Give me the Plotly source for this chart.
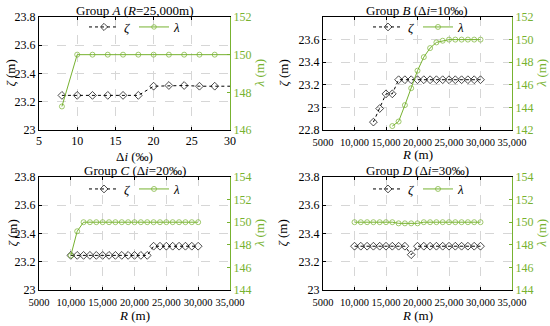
import plotly.graph_objects as go

# ---------------- data ----------------
A_di = [8, 10, 12, 14, 16, 18, 20, 22, 24, 26, 28, 30]
A_zeta = [23.245, 23.245, 23.245, 23.245, 23.245, 23.245, 23.31, 23.315, 23.315, 23.31, 23.31, 23.31]
A_lambda = [147.25, 150.0, 150.0, 150.0, 150.0, 150.0, 150.0, 150.0, 150.0, 150.0, 150.0, 150.0]

B_R_zeta = [13000, 14000, 15000, 16000, 17000, 18000, 19000, 20000, 21000, 22000,
            23000, 24000, 25000, 26000, 27000, 28000, 29000, 30000]
B_zeta = [22.87, 22.99, 23.12, 23.12, 23.245, 23.245, 23.245, 23.245, 23.245, 23.245,
          23.245, 23.245, 23.245, 23.245, 23.245, 23.245, 23.245, 23.245]
B_R_lambda = [16000, 17000, 18000, 19000, 20000, 21000, 22000, 23000, 24000, 25000,
              26000, 27000, 28000, 29000, 30000]
B_lambda = [142.35, 142.75, 144.2, 145.7, 147.25, 148.45, 149.25, 149.75, 149.9, 150.0,
            150.0, 150.0, 150.0, 150.0, 150.0]

C_R = [10000, 11000, 12000, 13000, 14000, 15000, 16000, 17000, 18000, 19000, 20000,
       21000, 22000, 23000, 24000, 25000, 26000, 27000, 28000, 29000, 30000]
C_zeta = [23.245, 23.245, 23.245, 23.245, 23.245, 23.245, 23.245, 23.245, 23.245, 23.245, 23.245,
          23.245, 23.245, 23.31, 23.31, 23.31, 23.31, 23.31, 23.31, 23.31, 23.31]
C_lambda = [147.05, 149.2, 150.0, 150.0, 150.0, 150.0, 150.0, 150.0, 150.0, 150.0, 150.0,
            150.0, 150.0, 150.0, 150.0, 150.0, 150.0, 150.0, 150.0, 150.0, 150.0]

D_R = [10000, 11000, 12000, 13000, 14000, 15000, 16000, 17000, 18000, 19000, 20000,
       21000, 22000, 23000, 24000, 25000, 26000, 27000, 28000, 29000, 30000]
D_zeta = [23.31, 23.31, 23.31, 23.31, 23.31, 23.31, 23.31, 23.31, 23.31, 23.25, 23.31,
          23.31, 23.31, 23.31, 23.31, 23.31, 23.31, 23.31, 23.31, 23.31, 23.31]
D_lambda = [150.0, 150.0, 150.0, 150.0, 150.0, 150.0, 150.0, 149.9, 149.9, 149.9, 149.9,
            150.0, 150.0, 150.0, 150.0, 150.0, 150.0, 150.0, 150.0, 150.0, 150.0]

A_xticks = [5, 10, 15, 20, 25, 30]
R_xticks = [5000, 10000, 15000, 20000, 25000, 30000, 35000]
R_xticktext = ["5000", "10,000", "15,000", "20,000", "25,000", "30,000", "35,000"]
zeta_ticks = [23, 23.2, 23.4, 23.6, 23.8]
zeta_ticktext = ["23", "23.2", "23.4", "23.6", "23.8"]
zetaB_ticks = [22.8, 23, 23.2, 23.4, 23.6]
zetaB_ticktext = ["22.8", "23", "23.2", "23.4", "23.6"]
lamA_ticks = [146, 148, 150, 152]
lamB_ticks = [142, 144, 146, 148, 150, 152]
lamCD_ticks = [144, 146, 148, 150, 152, 154]

titles = ["Group <i>A</i> (<i>R</i>=25,000m)",
          "Group <i>B</i> (Δ<i>i</i>=10‰)",
          "Group <i>C</i> (Δ<i>i</i>=20‰)",
          "Group <i>D</i> (Δ<i>i</i>=30‰)"]

# ---------------- layout geometry (pixels) ----------------
W, H = 550, 326
GREEN = "rgb(119,178,48)"
FONT = "Liberation Serif"

# panel boxes: left, right, top, bottom (px)
boxes = [(39, 230, 17, 130), (323, 512, 17, 130), (39, 230, 177, 290), (323, 512, 177, 290)]

def px_x(v):
    return v / W

def px_y(v):
    return 1 - v / H

fig = go.Figure()

panels = [
    dict(xz=A_di, z=A_zeta, xl=A_di, l=A_lambda, xr=[5, 30], xt=A_xticks, xtt=[str(v) for v in A_xticks],
         zr=[23, 23.8], zt=zeta_ticks, ztt=zeta_ticktext, lr=[146, 152], lt=lamA_ticks,
         xtitle="Δ<i>i</i> (‰)", xfs=12, xso=0, xty=26),
    dict(xz=B_R_zeta, z=B_zeta, xl=B_R_lambda, l=B_lambda, xr=[5000, 35000], xt=R_xticks, xtt=R_xticktext,
         zr=[22.8, 23.8], zt=zetaB_ticks, ztt=zetaB_ticktext, lr=[142, 152], lt=lamB_ticks,
         xtitle="<i>R</i> (m)", xfs=10.5, xso=2, xty=25),
    dict(xz=C_R, z=C_zeta, xl=C_R, l=C_lambda, xr=[5000, 35000], xt=R_xticks, xtt=R_xticktext,
         zr=[23, 23.8], zt=zeta_ticks, ztt=zeta_ticktext, lr=[144, 154], lt=lamCD_ticks,
         xtitle="<i>R</i> (m)", xfs=10.5, xso=2, xty=25),
    dict(xz=D_R, z=D_zeta, xl=D_R, l=D_lambda, xr=[5000, 35000], xt=R_xticks, xtt=R_xticktext,
         zr=[23, 23.8], zt=zeta_ticks, ztt=zeta_ticktext, lr=[144, 154], lt=lamCD_ticks,
         xtitle="<i>R</i> (m)", xfs=10.5, xso=2, xty=25),
]

legend_pos = [(84, 27), (368, 27), (84, 189), (368, 189)]
ytitle_left_x = [10, 283, 12, 282]
annotations = []
layout = {}

for i, p in enumerate(panels):
    n = i + 1
    xa = "x" if n == 1 else f"x{n}"
    ya = "y" if n == 1 else f"y{n}"
    yr = f"y{n+4}"
    leg = "legend" if n == 1 else f"legend{n}"
    L, R, T, B = boxes[i]

    # marker sizes: last A point is only the line continuation to the axis edge
    zsize = [6] * len(p["xz"])
    lsize = [5] * len(p["xl"])
    if i == 0:
        zsize[-1] = 0
        lsize[-1] = 0

    fig.add_trace(go.Scatter(
        x=p["xz"], y=p["z"], xaxis=xa, yaxis=ya, mode="lines+markers", name="<i>ζ</i>",
        line=dict(color="black", width=1, dash="3px,3px"),
        marker=dict(symbol="diamond-open", size=zsize, color="black", line=dict(width=1)),
        legend=leg, showlegend=True))
    fig.add_trace(go.Scatter(
        x=p["xl"], y=p["l"], xaxis=xa, yaxis=yr, mode="lines+markers", name="<i>λ</i>",
        line=dict(color=GREEN, width=1),
        marker=dict(symbol="circle-open", size=lsize, color=GREEN, line=dict(width=1)),
        legend=leg, showlegend=True))

    xkey = "xaxis" if n == 1 else f"xaxis{n}"
    ykey = "yaxis" if n == 1 else f"yaxis{n}"
    yrkey = f"yaxis{n+4}"
    layout[xkey] = dict(
        domain=[px_x(L), px_x(R)], anchor=ya, range=p["xr"], tickmode="array",
        tickvals=p["xt"], ticktext=p["xtt"], tickangle=0, ticklabelstandoff=p["xso"],
        showline=True, linecolor="black", linewidth=1, mirror="ticks",
        ticks="inside", ticklen=3, tickcolor="black",
        showgrid=True, gridcolor="#d6d6d6", griddash="dash", gridwidth=1,
        zeroline=False, automargin=False,
        tickfont=dict(family=FONT, size=p["xfs"], color="black"))
    layout[ykey] = dict(
        domain=[px_y(B), px_y(T)], anchor=xa, range=p["zr"], tickmode="array",
        tickvals=p["zt"], ticktext=p["ztt"],
        showline=True, linecolor="black", linewidth=1,
        ticks="inside", ticklen=3, tickcolor="black",
        showgrid=True, gridcolor="#d6d6d6", griddash="dash", gridwidth=1,
        zeroline=False, automargin=False,
        tickfont=dict(family=FONT, size=12, color="black"))
    layout[yrkey] = dict(
        overlaying=ya, anchor=xa, side="right", range=p["lr"], tickmode="array",
        tickvals=p["lt"], showline=True, linecolor=GREEN, linewidth=1,
        ticks="inside", ticklen=3, tickcolor=GREEN, showgrid=False, zeroline=False,
        automargin=False, tickfont=dict(family=FONT, size=12, color=GREEN))

    lx, ly = legend_pos[i]
    layout[leg] = dict(
        x=px_x(lx), y=px_y(ly), xanchor="left", yanchor="middle", orientation="h",
        bgcolor="rgba(255,255,255,0)", borderwidth=0, itemwidth=30,
        font=dict(family=FONT, size=13, color="black"), tracegroupgap=0,
        entrywidth=5)

    cx = (L + R) / 2
    annotations.append(dict(text=titles[i], x=px_x(cx), y=px_y(T - 7), xref="paper", yref="paper",
                            xanchor="center", yanchor="middle", showarrow=False,
                            font=dict(family=FONT, size=13, color="black")))
    annotations.append(dict(text=p["xtitle"], x=px_x(cx), y=px_y(B + p["xty"]), xref="paper", yref="paper",
                            xanchor="center", yanchor="middle", showarrow=False,
                            font=dict(family=FONT, size=13, color="black")))
    annotations.append(dict(text="<i>ζ</i> (m)", x=px_x(ytitle_left_x[i]), y=px_y((T + B) / 2),
                            xref="paper", yref="paper", xanchor="center", yanchor="middle",
                            textangle=-90, showarrow=False,
                            font=dict(family=FONT, size=13, color="black")))
    annotations.append(dict(text="<i>λ</i> (m)", x=px_x(R + 29), y=px_y((T + B) / 2),
                            xref="paper", yref="paper", xanchor="center", yanchor="middle",
                            textangle=-90, showarrow=False,
                            font=dict(family=FONT, size=13, color=GREEN)))

fig.update_layout(
    width=W, height=H, margin=dict(l=0, r=0, t=0, b=0),
    paper_bgcolor="white", plot_bgcolor="white", hovermode=False,
    annotations=annotations, **layout)

fig.write_html("out.html", config={"displayModeBar": False, "staticPlot": True},
               post_script="document.body.style.margin='0px';document.body.style.overflow='hidden';")
